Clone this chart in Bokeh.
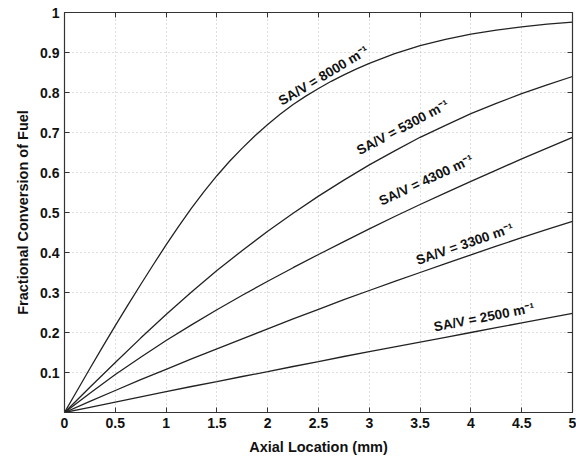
from bokeh.plotting import figure
from bokeh.models import LinearAxis, FixedTicker, CustomJSTickFormatter, Range1d
from bokeh.core.properties import value
from bokeh.embed import file_html
from bokeh.resources import INLINE
import math

# ---- data ----
x_8000 = [0, 0.125, 0.25, 0.375, 0.5, 0.625, 0.75, 0.875, 1.0, 1.125, 1.25, 1.375, 1.5,
          1.625, 1.75, 1.875, 2.0, 2.125, 2.25, 2.375, 2.5, 2.625, 2.75, 2.875, 3.0,
          3.25, 3.5, 3.75, 4.0, 4.25, 4.5, 4.75, 5.0]
y_8000 = [0, 0.055, 0.110, 0.164, 0.217, 0.269, 0.320, 0.370, 0.419, 0.466, 0.511, 0.553, 0.592,
          0.628, 0.661, 0.692, 0.720, 0.746, 0.770, 0.791, 0.810, 0.828, 0.844, 0.859, 0.873,
          0.897, 0.917, 0.933, 0.946, 0.956, 0.964, 0.971, 0.976]

x_q = [0, 0.25, 0.5, 0.75, 1.0, 1.25, 1.5, 1.75, 2.0, 2.25, 2.5, 2.75, 3.0, 3.25, 3.5,
       3.75, 4.0, 4.25, 4.5, 4.75, 5.0]
y_5300 = [0, 0.063, 0.125, 0.186, 0.245, 0.301, 0.355, 0.405, 0.453, 0.498, 0.541, 0.581,
          0.619, 0.654, 0.688, 0.718, 0.747, 0.773, 0.797, 0.819, 0.840]
y_4300 = [0, 0.048, 0.095, 0.138, 0.180, 0.219, 0.257, 0.293, 0.328, 0.362, 0.395, 0.427,
          0.459, 0.490, 0.520, 0.549, 0.578, 0.606, 0.634, 0.661, 0.688]
y_3300 = [0, 0.028, 0.055, 0.082, 0.108, 0.134, 0.159, 0.184, 0.209, 0.234, 0.258, 0.282,
          0.305, 0.328, 0.350, 0.372, 0.394, 0.416, 0.437, 0.458, 0.478]
y_2500 = [0, 0.013, 0.026, 0.039, 0.052, 0.065, 0.077, 0.090, 0.102, 0.115, 0.127, 0.140,
          0.152, 0.164, 0.176, 0.188, 0.200, 0.212, 0.224, 0.236, 0.248]

labels = ["SA/V = 8000 m\u207b\u00b9", "SA/V = 5300 m\u207b\u00b9", "SA/V = 4300 m\u207b\u00b9",
          "SA/V = 3300 m\u207b\u00b9", "SA/V = 2500 m\u207b\u00b9"]

x_ticks = [0, 0.5, 1, 1.5, 2, 2.5, 3, 3.5, 4, 4.5, 5]
y_ticks = [0.1, 0.2, 0.3, 0.4, 0.5, 0.6, 0.7, 0.8, 0.9, 1.0]

# annotation placement (data coords) and angles in degrees
label_x = [2.55, 3.33, 3.56, 3.94, 4.13]
label_y = [0.842, 0.713, 0.581, 0.421, 0.238]
label_angle = [31, 28, 25, 19, 11]

p = figure(width=576, height=458, output_backend="svg", toolbar_location=None,
           x_range=Range1d(0, 5), y_range=Range1d(0, 1),
           min_border_left=64, min_border_right=4, min_border_top=12, min_border_bottom=46)
p.background_fill_color = "white"
p.border_fill_color = "white"
p.outline_line_color = "#333333"
p.outline_line_width = 1.2

fmt = CustomJSTickFormatter(code="return String(Math.round(tick*10)/10);")
blank = CustomJSTickFormatter(code="return '';")

font = "Liberation Sans"
for ax, ticks in ((p.xaxis[0], x_ticks), (p.yaxis[0], y_ticks)):
    ax.ticker = FixedTicker(ticks=ticks)
    ax.formatter = fmt
    ax.major_tick_in = 5
    ax.major_tick_out = 0
    ax.minor_tick_line_color = None
    ax.axis_line_color = "#333333"
    ax.major_tick_line_color = "#333333"
    ax.major_label_text_font = font
    ax.major_label_text_font_style = "bold"
    ax.major_label_text_font_size = "14px"
    ax.major_label_text_color = "#111111"
    ax.axis_label_text_font = font
    ax.axis_label_text_font_style = "bold"
    ax.axis_label_text_font_size = "14.5px"
    ax.axis_label_text_color = "#111111"
    ax.major_label_standoff = 5

p.xaxis[0].axis_label = "Axial Location (mm)"
p.yaxis[0].axis_label = "Fractional Conversion of Fuel"
p.xaxis[0].axis_label_standoff = 8
p.yaxis[0].axis_label_standoff = 6

top = LinearAxis(ticker=FixedTicker(ticks=x_ticks), formatter=blank)
right = LinearAxis(ticker=FixedTicker(ticks=y_ticks), formatter=blank)
for ax in (top, right):
    ax.major_tick_in = 5
    ax.major_tick_out = 0
    ax.minor_tick_line_color = None
    ax.axis_line_color = "#333333"
    ax.major_tick_line_color = "#333333"
    ax.major_label_text_font_size = "0px"
    ax.major_label_standoff = 0
p.add_layout(top, "above")
p.add_layout(right, "right")

p.xgrid.ticker = FixedTicker(ticks=x_ticks)
p.ygrid.ticker = FixedTicker(ticks=y_ticks)
for g in (p.xgrid, p.ygrid):
    g.grid_line_color = "#bdbdbd"
    g.grid_line_dash = "1 3"
    g.grid_line_width = 1

col = "#222222"
p.line(x_8000, y_8000, line_color=col, line_width=1.3)
for ys in (y_5300, y_4300, y_3300, y_2500):
    p.line(x_q, ys, line_color=col, line_width=1.3)

p.text(x=label_x, y=label_y, text=labels, angle=[math.radians(a) for a in label_angle],
       text_align="center", text_baseline="middle", text_font_size="13.5px",
       text_font=value(font), text_font_style="bold", text_color="#111111")

open("out.html", "w").write(file_html(p, INLINE))
